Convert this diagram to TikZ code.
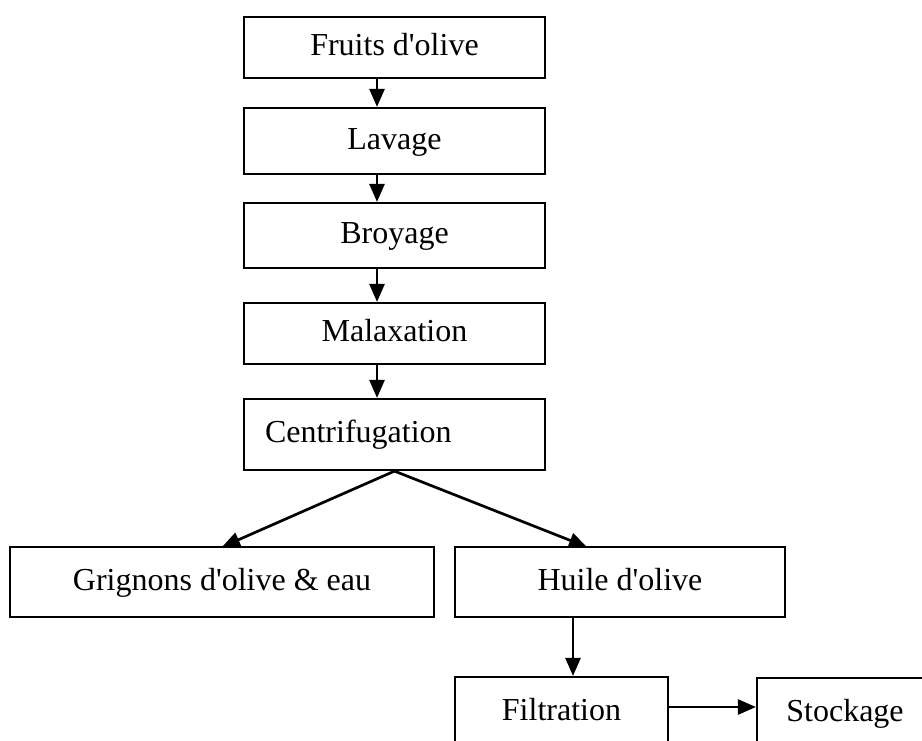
\documentclass[tikz,border=0pt]{standalone}
\usepackage{fontspec}
\setmainfont{Liberation Serif}
\usetikzlibrary{arrows.meta}
\newcommand{\apos}{\textquotesingle}
\tikzset{
  box/.style={draw, line width=2.2pt, rectangle, inner sep=0pt, text height=22pt, text depth=6pt, font=\fontsize{32}{38}\selectfont},
  arr/.style={line width=2.7pt, -{Triangle[length=18pt,width=15pt]}}
}
\begin{document}
\begin{tikzpicture}[x=1pt,y=-1pt]
\clip (0,0) rectangle (922,740);
\fill[white] (0,0) rectangle (922,740);
\node[box, minimum width=301, minimum height=61] (fruits) at (394.5,47.5) {Fruits d\apos olive};
\node[box, minimum width=301, minimum height=66] (lavage) at (394.5,141) {Lavage};
\node[box, minimum width=301, minimum height=65] (broyage) at (394.5,235.5) {Broyage};
\node[box, minimum width=301, minimum height=61] (malax) at (394.5,333.5) {Malaxation};
\node[box, minimum width=301, minimum height=71, text width=259, inner xsep=21pt, align=left] (centri) at (394.5,434.5) {Centrifugation};
\node[box, minimum width=424, minimum height=70] (grignons) at (222,582) {Grignons d\apos olive \& eau};
\node[box, minimum width=330, minimum height=70] (huile) at (620,582) {Huile d\apos olive};
\node[box, minimum width=213, minimum height=70] (filtration) at (561.5,712) {Filtration};
\node[box, minimum width=176, minimum height=70] (stockage) at (845,713) {Stockage};
\coordinate (vx) at (377,0);
\coordinate (hx) at (573,0);
\coordinate (gtip) at (222,547);
\coordinate (htip) at (587,547);
\coordinate (fy) at (0,707);
\draw[arr] (fruits.south -| vx) -- (lavage.north -| vx);
\draw[arr] (lavage.south -| vx) -- (broyage.north -| vx);
\draw[arr] (broyage.south -| vx) -- (malax.north -| vx);
\draw[arr] (malax.south -| vx) -- (centri.north -| vx);
\draw[arr] (centri.south) -- (gtip);
\draw[arr] (centri.south) -- (htip);
\draw[arr] (huile.south -| hx) -- (filtration.north -| hx);
\draw[arr] (filtration.east |- fy) -- (stockage.west |- fy);
\end{tikzpicture}
\end{document}
